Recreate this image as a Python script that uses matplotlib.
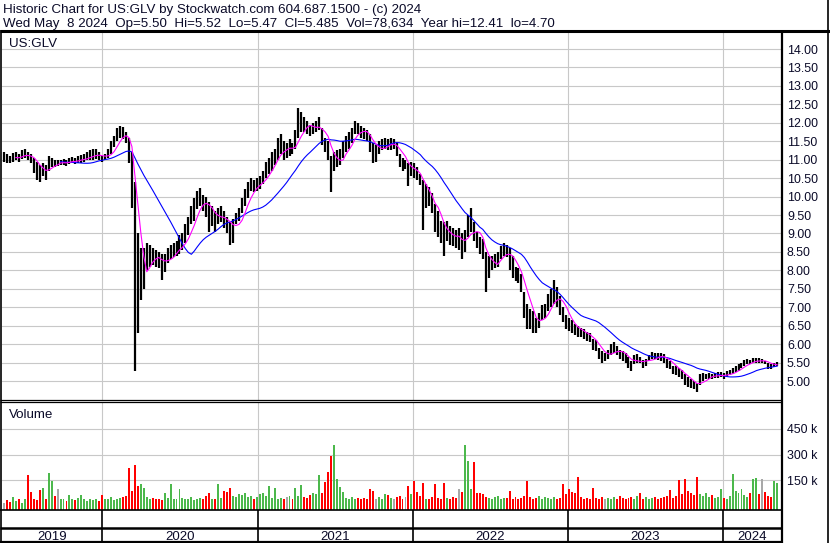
import matplotlib
matplotlib.use('Agg')
import matplotlib.pyplot as plt
from matplotlib.lines import Line2D
import numpy as np
import pandas as pd

W, H = 830, 543

title_line1 = "Historic Chart for US:GLV by Stockwatch.com 604.687.1500 - (c) 2024"
title_line2 = "Wed May  8 2024  Op=5.50  Hi=5.52  Lo=5.47  Cl=5.485  Vol=78,634  Year hi=12.41  lo=4.70"
symbol = "US:GLV"
vol_title = "Volume"
first_week = "2019-05-15"

week_hi = [
    11.20, 11.15, 11.10, 11.18, 11.22, 11.15, 11.25, 11.30, 11.22, 11.15,
    11.05, 10.95, 10.85, 10.90, 10.85, 11.10, 11.05, 11.00, 10.98, 11.00,
    11.02, 11.00, 11.05, 11.08, 11.05, 11.10, 11.12, 11.15, 11.20, 11.25,
    11.28, 11.30, 11.20, 11.10, 11.15, 11.30, 11.50, 11.65, 11.85, 11.92,
    11.88, 11.75, 11.60, 11.20, 10.40, 9.00, 8.60, 8.60, 8.75, 8.70,
    8.60, 8.55, 8.50, 8.45, 8.45, 8.60, 8.70, 8.75, 8.80, 8.95,
    9.00, 9.25, 9.45, 9.75, 9.95, 10.15, 10.22, 10.05, 10.00, 9.85,
    9.75, 9.60, 9.70, 9.75, 9.60, 9.45, 9.30, 9.40, 9.55, 9.70,
    9.95, 10.20, 10.40, 10.50, 10.45, 10.50, 10.55, 10.70, 10.95, 11.05,
    11.20, 11.30, 11.60, 11.70, 11.50, 11.45, 11.55, 11.45, 11.80, 12.40,
    12.30, 12.15, 12.05, 11.95, 12.00, 12.05, 12.15, 11.85, 11.60, 11.50,
    11.10, 11.20, 11.25, 11.30, 11.50, 11.65, 11.75, 11.85, 12.05, 12.00,
    11.90, 11.85, 11.80, 11.70, 11.45, 11.40, 11.50, 11.55, 11.60, 11.55,
    11.60, 11.55, 11.45, 11.15, 11.05, 11.00, 10.90, 10.95, 10.90, 10.80,
    10.60, 10.45, 10.35, 10.25, 10.10, 9.80, 9.60, 9.35, 9.30, 9.35,
    9.20, 9.15, 9.10, 9.15, 9.00, 9.10, 9.50, 9.70, 9.30, 9.05,
    8.90, 8.85, 8.50, 8.40, 8.40, 8.45, 8.50, 8.65, 8.75, 8.70,
    8.60, 8.40, 8.10, 8.05, 7.90, 7.40, 7.10, 6.95, 6.90, 6.70,
    6.85, 7.05, 7.10, 7.35, 7.50, 7.74, 7.55, 7.30, 7.00, 6.80,
    6.70, 6.65, 6.55, 6.48, 6.45, 6.40, 6.32, 6.30, 6.15, 6.10,
    5.90, 5.80, 5.75, 5.85, 6.00, 6.06, 5.95, 5.85, 5.80, 5.75,
    5.65, 5.55, 5.70, 5.72, 5.65, 5.58, 5.60, 5.70, 5.78, 5.75,
    5.76, 5.75, 5.72, 5.60, 5.55, 5.42, 5.40, 5.35, 5.30, 5.20,
    5.10, 5.05, 5.00, 4.95, 5.20, 5.23, 5.20, 5.22, 5.20, 5.22,
    5.25, 5.24, 5.22, 5.26, 5.30, 5.35, 5.40, 5.45, 5.50, 5.58,
    5.60, 5.58, 5.62, 5.63, 5.62, 5.60, 5.55, 5.50, 5.45, 5.48, 5.52,
]

week_lo = [
    10.95, 10.90, 10.92, 10.95, 11.00, 10.95, 11.02, 11.05, 11.00, 10.90,
    10.65, 10.45, 10.40, 10.55, 10.45, 10.70, 10.80, 10.80, 10.82, 10.85,
    10.85, 10.82, 10.88, 10.90, 10.88, 10.90, 10.92, 10.95, 10.98, 11.00,
    11.00, 11.02, 10.98, 10.95, 10.98, 11.05, 11.15, 11.35, 11.50, 11.60,
    11.55, 11.45, 10.90, 9.70, 5.27, 6.30, 7.20, 7.50, 8.00, 8.10,
    8.15, 8.10, 8.05, 7.75, 7.95, 8.20, 8.30, 8.35, 8.40, 8.45,
    8.55, 8.75, 8.95, 9.25, 9.35, 9.65, 9.75, 9.60, 9.45, 9.05,
    9.20, 9.05, 9.25, 9.30, 9.15, 9.00, 8.70, 8.75, 9.25, 9.35,
    9.55, 9.75, 9.95, 10.15, 10.12, 10.15, 10.20, 10.35, 10.50, 10.60,
    10.70, 10.85, 11.00, 11.15, 11.00, 11.05, 11.10, 11.15, 11.30, 11.60,
    11.75, 11.75, 11.70, 11.65, 11.70, 11.75, 11.80, 11.40, 11.20, 11.00,
    10.13, 10.70, 10.80, 10.85, 11.05, 11.20, 11.30, 11.45, 11.70, 11.70,
    11.60, 11.55, 11.50, 11.20, 10.90, 10.95, 11.15, 11.25, 11.30, 11.25,
    11.25, 11.30, 11.10, 10.80, 10.70, 10.75, 10.28, 10.55, 10.50, 10.45,
    10.30, 9.10, 9.70, 9.75, 9.55, 9.05, 8.90, 8.75, 8.40, 8.80,
    8.70, 8.65, 8.60, 8.55, 8.30, 8.50, 8.90, 9.05, 8.80, 8.60,
    8.45, 8.30, 7.40, 7.80, 8.00, 8.05, 8.10, 8.30, 8.40, 8.35,
    8.00, 7.80, 7.70, 7.65, 7.40, 6.70, 6.40, 6.40, 6.30, 6.30,
    6.45, 6.65, 6.70, 6.90, 7.00, 7.10, 7.00, 6.80, 6.60, 6.40,
    6.35, 6.30, 6.25, 6.20, 6.18, 6.15, 6.08, 6.05, 5.85, 5.80,
    5.60, 5.50, 5.55, 5.60, 5.70, 5.75, 5.70, 5.60, 5.55, 5.50,
    5.35, 5.28, 5.45, 5.50, 5.48, 5.36, 5.40, 5.55, 5.60, 5.60,
    5.58, 5.55, 5.50, 5.35, 5.32, 5.18, 5.15, 5.12, 5.05, 4.90,
    4.85, 4.80, 4.78, 4.70, 4.90, 5.00, 5.05, 5.05, 5.05, 5.08,
    5.08, 5.10, 5.05, 5.10, 5.15, 5.20, 5.25, 5.28, 5.35, 5.42,
    5.45, 5.45, 5.50, 5.50, 5.48, 5.50, 5.45, 5.33, 5.32, 5.38, 5.42,
]

week_vol_k = [
    20, 35, 25, 55, 30, 45, 20, 40, 180, 85,
    40, 35, 95, 105, 40, 196, 146, 60, 98, 45,
    40, 30, 65, 45, 35, 50, 65, 40, 30, 45,
    35, 40, 30, 65, 45, 40, 55, 35, 45, 50,
    55, 60, 223, 90, 238, 120, 127, 105, 55, 45,
    50, 40, 45, 35, 75, 50, 129, 45, 40, 100,
    50, 40, 45, 55, 35, 45, 50, 40, 60, 77,
    40, 45, 129, 50, 90, 85, 104, 60, 55, 70,
    65, 80, 55, 60, 45, 55, 70, 75, 60, 119,
    50, 104, 45, 50, 40, 55, 60, 45, 104, 60,
    123, 55, 50, 65, 75, 70, 180, 75, 142, 200,
    290, 354, 160, 110, 85, 50, 45, 55, 40, 50,
    45, 50, 40, 100, 90, 45, 55, 45, 70, 65,
    50, 45, 55, 60, 45, 55, 119, 70, 146, 85,
    60, 133, 45, 40, 55, 127, 50, 45, 133, 50,
    45, 55, 50, 100, 85, 354, 261, 100, 258, 80,
    75, 70, 55, 50, 45, 55, 60, 45, 50, 50,
    90, 45, 55, 40, 50, 60, 146, 55, 45, 50,
    60, 45, 55, 50, 45, 55, 40, 50, 127, 70,
    100, 85, 75, 169, 55, 45, 50, 45, 104, 50,
    45, 55, 40, 50, 45, 55, 40, 60, 50, 45,
    50, 55, 45, 60, 80, 45, 55, 45, 50, 55,
    45, 50, 55, 60, 95, 50, 60, 152, 70, 158,
    90, 80, 65, 169, 70, 60, 75, 55, 65, 50,
    55, 100, 50, 45, 60, 187, 90, 75, 100, 65,
    55, 80, 158, 162, 70, 158, 85, 60, 55, 146, 133,
]

price_ticks = [5.0, 5.5, 6.0, 6.5, 7.0, 7.5, 8.0, 8.5, 9.0, 9.5, 10.0,
               10.5, 11.0, 11.5, 12.0, 12.5, 13.0, 13.5, 14.0]
price_labels = ["5.00", "5.50", "6.00", "6.50", "7.00", "7.50", "8.00", "8.50",
                "9.00", "9.50", "10.00", "10.50", "11.00", "11.50", "12.00",
                "12.50", "13.00", "13.50", "14.00"]
vol_ticks = [150000, 300000, 450000]
vol_labels = ["150 k", "300 k", "450 k"]
years = [2019, 2020, 2021, 2022, 2023, 2024]

# ---------------------------------------------------------------
plt.rcParams['font.family'] = ['Liberation Sans', 'DejaVu Sans']
FS = 8.9
FS_HEAD = 9.65
TXT = '#0a0a28'
GRID = '#c8c8c8'

fig = plt.figure(figsize=(W / 100, H / 100), dpi=100)
fig.patch.set_facecolor('white')


def rect(x0, y0, x1, y1):
    return [x0 / W, 1 - y1 / H, (x1 - x0) / W, (y1 - y0) / H]


def fline(x0, y0, x1, y1, lw=1.0, color='black'):
    fig.add_artist(Line2D([x0 / W, x1 / W], [1 - y0 / H, 1 - y1 / H],
                          transform=fig.transFigure, color=color, lw=lw,
                          solid_capstyle='butt'))


dates = pd.date_range(first_week, periods=len(week_hi), freq='7D')
hi = np.array(week_hi)
lo = np.array(week_lo)
mid = (hi + lo) / 2
ma_fast = pd.Series(mid).rolling(5).mean().values
ma_slow = pd.Series(mid).rolling(20).mean().values
vol = np.array(week_vol_k) * 1000.0

chg = np.diff(mid, prepend=mid[0])
vcolors = np.where(chg > 0.004, '#4cb84c', np.where(chg < -0.004, '#ff0000', '#a8a8a8'))

xmin, xmax = pd.Timestamp('2019-05-09'), pd.Timestamp('2024-05-17')
year_starts = [pd.Timestamp(f'{y}-01-01') for y in years[1:]]

# price panel
ax_p = fig.add_axes(rect(1.5, 32, 781, 400))
ax_p.set_xlim(xmin, xmax)
ax_p.set_ylim(4.485, 14.461)
ax_p.set_yticks(price_ticks)
ax_p.set_yticklabels(price_labels)
ax_p.set_xticks(year_starts)
ax_p.set_xticklabels([])
ax_p.yaxis.tick_right()
ax_p.tick_params(axis='y', length=0, pad=4.3, labelsize=FS, labelcolor=TXT)
ax_p.tick_params(axis='x', length=0)
ax_p.grid(True, color=GRID, lw=0.8)
ax_p.set_axisbelow(True)
for s in ax_p.spines.values():
    s.set_visible(False)
ax_p.vlines(dates, lo, hi, color='black', lw=1.6)
ax_p.plot(dates, ma_slow, color='#0000ff', lw=0.8)
ax_p.plot(dates, ma_fast, color='#ff00ff', lw=0.8)

# volume panel
ax_v = fig.add_axes(rect(1.5, 402.5, 781, 509.5))
vbot = -18500
ax_v.set_xlim(xmin, xmax)
ax_v.set_ylim(vbot, 602000)
ax_v.set_yticks(vol_ticks)
ax_v.set_yticklabels(vol_labels)
ax_v.set_xticks(year_starts)
ax_v.set_xticklabels([])
ax_v.yaxis.tick_right()
ax_v.tick_params(axis='y', length=0, pad=4.3, labelsize=FS, labelcolor=TXT)
ax_v.tick_params(axis='x', length=0)
ax_v.grid(True, color=GRID, lw=0.8)
ax_v.set_axisbelow(True)
for s in ax_v.spines.values():
    s.set_visible(False)
ax_v.bar(dates, vol - vbot, bottom=vbot, width=4.6, color=vcolors, linewidth=0)

# date strip
ax_s = fig.add_axes(rect(1.5, 510, 781, 542))
ax_s.set_xlim(xmin, xmax)
ax_s.set_ylim(0, 1)
ax_s.axis('off')
bounds = [xmin] + year_starts + [xmax]
for y, a, b in zip(years, bounds[:-1], bounds[1:]):
    c = a + (b - a) / 2
    ax_s.text(c, 0.06, str(y), ha='center', va='baseline', fontsize=FS + 0.6, color=TXT)
for ys in year_starts:
    ax_s.axvline(ys, color='black', lw=1.2)

# header and labels
fig.text(3 / W, 1 - 13.3 / H, title_line1, fontsize=FS_HEAD, color=TXT, va='baseline')
fig.text(3 / W, 1 - 26.7 / H, title_line2, fontsize=FS_HEAD, color=TXT, va='baseline')
fig.text(9 / W, 1 - 46.5 / H, symbol, fontsize=FS_HEAD, color=TXT, va='baseline')
fig.text(9 / W, 1 - 418 / H, vol_title, fontsize=FS_HEAD, color=TXT, va='baseline')

# frame lines
fline(0, 30.5, W, 30.5, lw=2.2)
fline(0.7, 30, 0.7, 542.5, lw=1.2)
fline(781.5, 30, 781.5, 542.5, lw=1.6)
fline(828, 0, 828, 542.5, lw=1.2)
fline(0, 400.3, 781, 400.3, lw=0.9)
fline(0, 402.3, 781, 402.3, lw=0.9)
fline(0, 510, 781, 510, lw=1.2)
fline(0, 527.8, 781, 527.8, lw=1.8)
fline(0, 541.8, 781, 541.8, lw=1.6)

fig.savefig('out.png', dpi=100)
